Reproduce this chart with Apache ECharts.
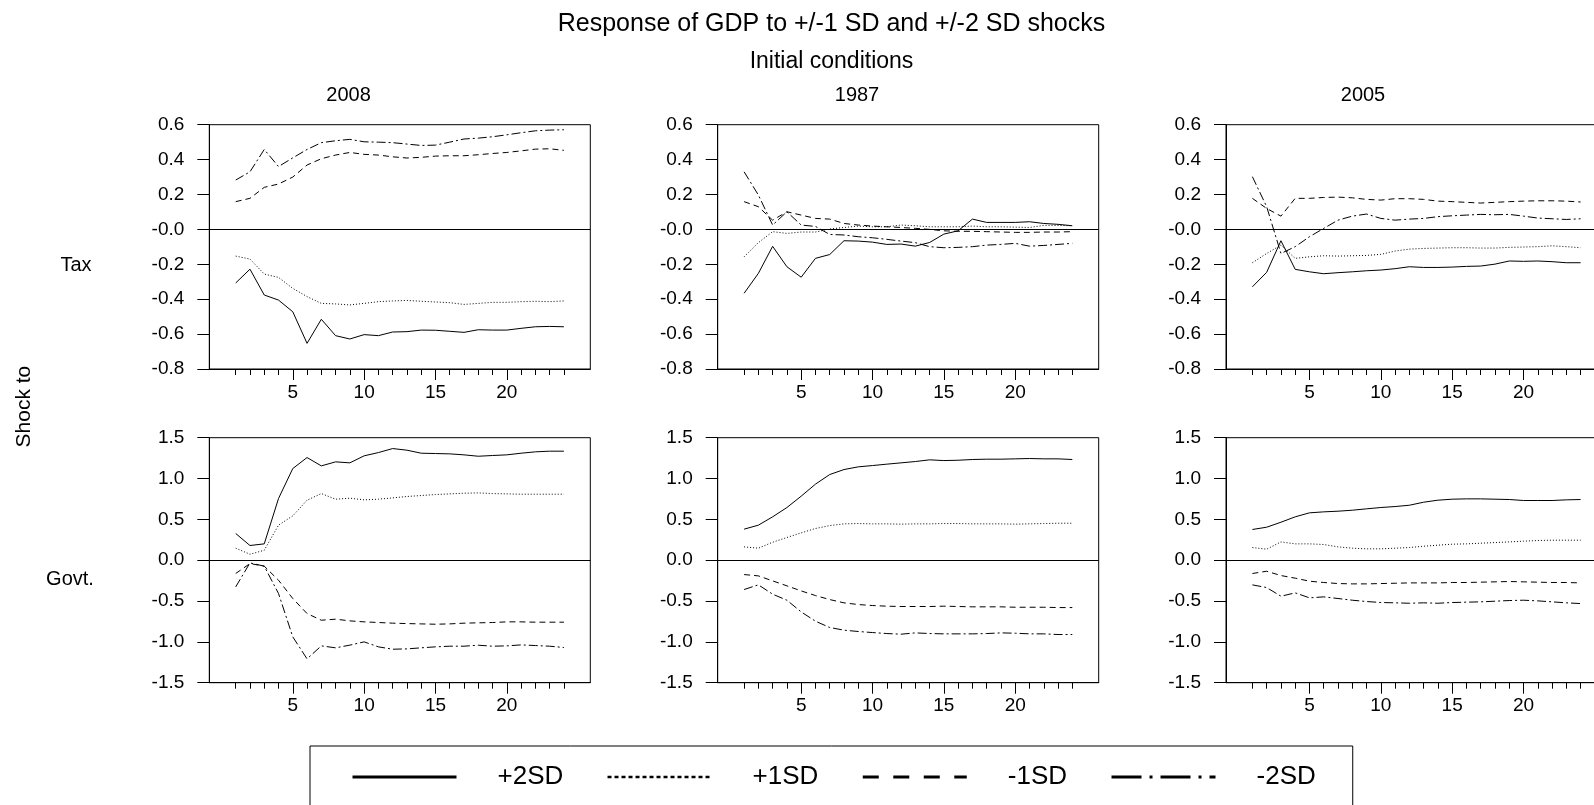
<!DOCTYPE html>
<html><head><meta charset="utf-8">
<script src="https://cdn.jsdelivr.net/npm/echarts@6/dist/echarts.min.js"></script>
<style>html,body{margin:0;padding:0;background:#fff;overflow:hidden;width:1594px;height:805px}#c{width:1640px;height:805px}</style>
</head><body><div id="c"></div>
<script>
// ---------------- data ----------------
const periods = [1,2,3,4,5,6,7,8,9,10,11,12,13,14,15,16,17,18,19,20,21,22,23,24];
const xTickLabels = [5,10,15,20];
const seriesNames = ['+2SD','+1SD','-1SD','-2SD'];
const columnTitles = ['2008','1987','2005'];
const rowLabels = ['Tax','Govt.'];
const axisLabelTitle = 'Shock to';
const mainTitle = 'Response of GDP to +/-1 SD and +/-2 SD shocks';
const subTitle = 'Initial conditions';

const tax2008P2 = [-0.307,-0.228,-0.376,-0.405,-0.472,-0.653,-0.515,-0.609,-0.628,-0.603,-0.609,-0.588,-0.586,-0.577,-0.578,-0.584,-0.590,-0.575,-0.577,-0.577,-0.567,-0.558,-0.556,-0.558];
const tax2008P1 = [-0.153,-0.170,-0.256,-0.275,-0.338,-0.385,-0.424,-0.427,-0.433,-0.424,-0.414,-0.410,-0.407,-0.412,-0.416,-0.420,-0.430,-0.424,-0.418,-0.418,-0.414,-0.412,-0.414,-0.410];
const tax2008M1 = [0.159,0.178,0.241,0.260,0.300,0.369,0.405,0.426,0.441,0.430,0.426,0.416,0.409,0.413,0.420,0.422,0.422,0.428,0.435,0.441,0.450,0.460,0.462,0.453];
const tax2008M2 = [0.283,0.330,0.458,0.360,0.410,0.458,0.497,0.508,0.516,0.502,0.500,0.497,0.489,0.481,0.483,0.500,0.518,0.523,0.531,0.542,0.554,0.565,0.569,0.571];

const govt2008P2 = [0.327,0.180,0.200,0.755,1.122,1.257,1.155,1.204,1.192,1.278,1.318,1.367,1.347,1.310,1.306,1.302,1.290,1.273,1.282,1.290,1.310,1.327,1.335,1.335];
const govt2008P1 = [0.147,0.073,0.122,0.429,0.543,0.735,0.816,0.747,0.759,0.739,0.747,0.763,0.780,0.792,0.804,0.812,0.820,0.824,0.816,0.812,0.808,0.808,0.808,0.808];
const govt2008M1 = [-0.163,-0.041,-0.073,-0.245,-0.469,-0.653,-0.735,-0.722,-0.743,-0.755,-0.763,-0.771,-0.776,-0.780,-0.784,-0.780,-0.771,-0.767,-0.763,-0.755,-0.755,-0.759,-0.759,-0.759];
const govt2008M2 = [-0.327,-0.033,-0.073,-0.408,-0.939,-1.208,-1.049,-1.073,-1.040,-1.000,-1.061,-1.090,-1.086,-1.073,-1.061,-1.053,-1.053,-1.041,-1.053,-1.049,-1.037,-1.045,-1.053,-1.069];

const tax1987P2 = [-0.366,-0.252,-0.097,-0.214,-0.274,-0.166,-0.144,-0.065,-0.067,-0.073,-0.086,-0.084,-0.096,-0.075,-0.027,-0.008,0.059,0.040,0.040,0.040,0.044,0.034,0.029,0.021];
const tax1987P1 = [-0.157,-0.076,-0.013,-0.023,-0.015,-0.015,0.002,0.011,0.019,0.015,0.015,0.025,0.021,0.015,0.015,0.015,0.019,0.015,0.015,0.013,0.011,0.023,0.023,0.021];
const tax1987M1 = [0.159,0.130,0.053,0.101,0.082,0.063,0.059,0.034,0.025,0.019,0.015,0.011,0.006,0.000,-0.008,-0.011,-0.011,-0.013,-0.015,-0.017,-0.017,-0.015,-0.015,-0.013];
const tax1987M2 = [0.330,0.197,0.025,0.101,0.025,0.017,-0.029,-0.032,-0.042,-0.048,-0.057,-0.067,-0.076,-0.099,-0.105,-0.103,-0.099,-0.090,-0.086,-0.080,-0.096,-0.092,-0.086,-0.080];

const govt1987P2 = [0.380,0.429,0.531,0.645,0.784,0.931,1.049,1.110,1.143,1.159,1.176,1.192,1.208,1.229,1.220,1.224,1.233,1.237,1.237,1.241,1.245,1.241,1.241,1.233];
const govt1987P1 = [0.163,0.147,0.220,0.278,0.335,0.388,0.424,0.445,0.449,0.445,0.445,0.441,0.445,0.445,0.449,0.449,0.445,0.445,0.445,0.441,0.445,0.449,0.453,0.453];
const govt1987M1 = [-0.176,-0.192,-0.253,-0.314,-0.376,-0.433,-0.482,-0.522,-0.543,-0.555,-0.563,-0.567,-0.567,-0.567,-0.563,-0.567,-0.571,-0.571,-0.571,-0.576,-0.576,-0.576,-0.580,-0.580];
const govt1987M2 = [-0.359,-0.302,-0.416,-0.490,-0.633,-0.747,-0.824,-0.857,-0.873,-0.886,-0.898,-0.906,-0.890,-0.898,-0.902,-0.902,-0.902,-0.898,-0.890,-0.894,-0.902,-0.902,-0.910,-0.910];

const tax2005P2 = [-0.329,-0.246,-0.065,-0.229,-0.243,-0.254,-0.248,-0.243,-0.237,-0.233,-0.225,-0.214,-0.218,-0.218,-0.216,-0.212,-0.210,-0.199,-0.181,-0.183,-0.181,-0.185,-0.191,-0.191];
const tax2005P1 = [-0.191,-0.138,-0.090,-0.166,-0.157,-0.151,-0.153,-0.151,-0.149,-0.143,-0.124,-0.113,-0.109,-0.107,-0.105,-0.105,-0.107,-0.107,-0.103,-0.101,-0.099,-0.094,-0.099,-0.105];
const tax2005M1 = [0.178,0.120,0.076,0.178,0.178,0.183,0.185,0.181,0.172,0.168,0.176,0.176,0.172,0.162,0.159,0.155,0.151,0.155,0.159,0.162,0.164,0.164,0.162,0.157];
const tax2005M2 = [0.302,0.130,-0.138,-0.099,-0.042,0.006,0.053,0.076,0.088,0.063,0.053,0.059,0.063,0.073,0.078,0.082,0.086,0.084,0.086,0.076,0.065,0.061,0.057,0.061];

const govt2005P2 = [0.376,0.404,0.465,0.531,0.580,0.592,0.600,0.612,0.629,0.645,0.657,0.673,0.710,0.735,0.747,0.751,0.751,0.747,0.743,0.731,0.731,0.731,0.739,0.743];
const govt2005P1 = [0.155,0.135,0.224,0.200,0.200,0.192,0.163,0.147,0.139,0.139,0.147,0.155,0.171,0.184,0.196,0.200,0.208,0.216,0.224,0.233,0.241,0.245,0.245,0.245];
const govt2005M1 = [-0.163,-0.135,-0.188,-0.220,-0.257,-0.273,-0.286,-0.290,-0.290,-0.286,-0.282,-0.278,-0.278,-0.278,-0.273,-0.273,-0.269,-0.265,-0.261,-0.265,-0.269,-0.273,-0.273,-0.278];
const govt2005M2 = [-0.302,-0.335,-0.441,-0.400,-0.461,-0.449,-0.469,-0.490,-0.506,-0.518,-0.522,-0.527,-0.522,-0.527,-0.518,-0.514,-0.510,-0.502,-0.494,-0.490,-0.498,-0.510,-0.522,-0.531];

// panels in order: row (Tax, Govt.) x column (2008, 1987, 2005)
const panels = [
  [tax2008P2, tax2008P1, tax2008M1, tax2008M2],
  [tax1987P2, tax1987P1, tax1987M1, tax1987M2],
  [tax2005P2, tax2005P1, tax2005M1, tax2005M2],
  [govt2008P2, govt2008P1, govt2008M1, govt2008M2],
  [govt1987P2, govt1987P1, govt1987M1, govt1987M2],
  [govt2005P2, govt2005P1, govt2005M1, govt2005M2]
];

// ---------------- layout / style ----------------
const FONT = '"Liberation Sans", Arial, Helvetica, sans-serif';
const gridLefts = [209.3, 717.7, 1226];
const gridTops = [124.7, 437.7];
const gridHeights = [244.3, 245];
const gridWidth = 381;
const yScales = [{min:-0.8, max:0.6, interval:0.2, zero:'-0.0'}, {min:-1.5, max:1.5, interval:0.5, zero:'0.0'}];
const lineTypes = ['solid', [1,2], [6,4], [9,3,2,3]];
const legendLineTypes = ['solid', [4,3], [16,14.5], [30,8,3,8]];

const grids = [], xAxes = [], yAxes = [], series = [];
for (let r = 0; r < 2; r++) {
  for (let c = 0; c < 3; c++) {
    const g = r * 3 + c;
    grids.push({left: gridLefts[c], top: gridTops[r], width: gridWidth, height: gridHeights[r],
      show: true, borderColor: '#000', borderWidth: 1, backgroundColor: 'rgba(0,0,0,0)', containLabel: false});
    const ys = yScales[r];
    xAxes.push({type:'value', gridIndex:g, position:'bottom', min:-0.85, max:25.85,
      axisLine:{show:true, onZero:false, lineStyle:{color:'#000', width:1}},
      axisTick:{show:true, customValues: periods, length:6, lineStyle:{color:'#000', width:1}},
      axisLabel:{show:true, customValues: xTickLabels, color:'#000', fontSize:19, fontFamily:FONT, margin:14},
      splitLine:{show:false}});
    xAxes.push({type:'value', gridIndex:g, position:'bottom', min:-0.85, max:25.85,
      axisLine:{show:false, onZero:false},
      axisTick:{show:true, customValues: xTickLabels, length:11, lineStyle:{color:'#000', width:1}},
      axisLabel:{show:false}, splitLine:{show:false}});
    yAxes.push({type:'value', gridIndex:g, min:ys.min, max:ys.max, interval:ys.interval,
      axisLine:{show:true, onZero:false, lineStyle:{color:'#000', width:1}},
      axisTick:{show:true, length:12, lineStyle:{color:'#000', width:1}},
      axisLabel:{color:'#000', fontSize:19, fontFamily:FONT, margin:25,
        formatter: v => Math.abs(v) < 1e-9 ? ys.zero : v.toFixed(1)},
      splitLine:{show:false}});
    const data = panels[g];
    for (let s = 0; s < 4; s++) {
      const item = {
        name: seriesNames[s], type:'line', xAxisIndex: g * 2, yAxisIndex: g,
        data: periods.map((p, i) => [p, data[s][i]]),
        symbol:'none', showSymbol:false, silent:true, animation:false,
        itemStyle:{color:'#000'},
        lineStyle:{color:'#000', width:1, type: lineTypes[s]}
      };
      if (s === 0) {
        item.markLine = {silent:true, symbol:['none','none'], label:{show:false}, animation:false,
          lineStyle:{color:'#000', width:1, type:'solid'}, data:[{yAxis:0}]};
      }
      series.push(item);
    }
  }
}

const textBase = {fill:'#000', fontFamily: FONT, align:'center', verticalAlign:'middle', textAlign:'center', textVerticalAlign:'middle'};
const graphics = [
  {type:'text', style:Object.assign({}, textBase, {text: mainTitle, x: 831.5, y: 24.4, fontSize: 25})},
  {type:'text', style:Object.assign({}, textBase, {text: subTitle, x: 831.5, y: 62, fontSize: 23})},
];
const colTitleX = [348.6, 857, 1363];
columnTitles.forEach((t, i) => graphics.push({type:'text', style:Object.assign({}, textBase, {text:t, x: colTitleX[i], y: 95.5, fontSize: 20})}));
const rowLabelPos = [[76, 265], [70, 579]];
rowLabels.forEach((t, i) => graphics.push({type:'text', style:Object.assign({}, textBase, {text:t, x: rowLabelPos[i][0], y: rowLabelPos[i][1], fontSize: 20})}));
graphics.push({type:'text', x: 24.4, y: 406.6, rotation: Math.PI / 2,
  style:Object.assign({}, textBase, {text: axisLabelTitle, x: 0, y: 0, fontSize: 21})});

const option = {
  backgroundColor:'#fff',
  animation:false,
  grid: grids, xAxis: xAxes, yAxis: yAxes, series: series,
  graphic: graphics,
  legend: {
    left: 310, top: 746, orient:'horizontal', selectedMode:false,
    itemWidth:104, itemHeight:16, itemGap:43,
    padding:[18, 37, 40, 41],
    borderColor:'#000', borderWidth:1, backgroundColor:'#fff',
    itemStyle:{color:'rgba(0,0,0,0)', borderColor:'rgba(0,0,0,0)', borderWidth:0},
    textStyle:{fontSize:26, color:'#000', fontFamily:FONT, padding:[0,0,0,36]},
    data: seriesNames.map((n, i) => ({name:n,
      itemStyle:{color:'rgba(0,0,0,0)', borderColor:'rgba(0,0,0,0)', borderWidth:0, opacity:0},
      lineStyle:{color:'#000', width: i === 1 ? 2.5 : 3, type: legendLineTypes[i], opacity:1}}))
  }
};
const chart = echarts.init(document.getElementById('c'), null, {renderer:'canvas'});
chart.setOption(option);
</script></body></html>
